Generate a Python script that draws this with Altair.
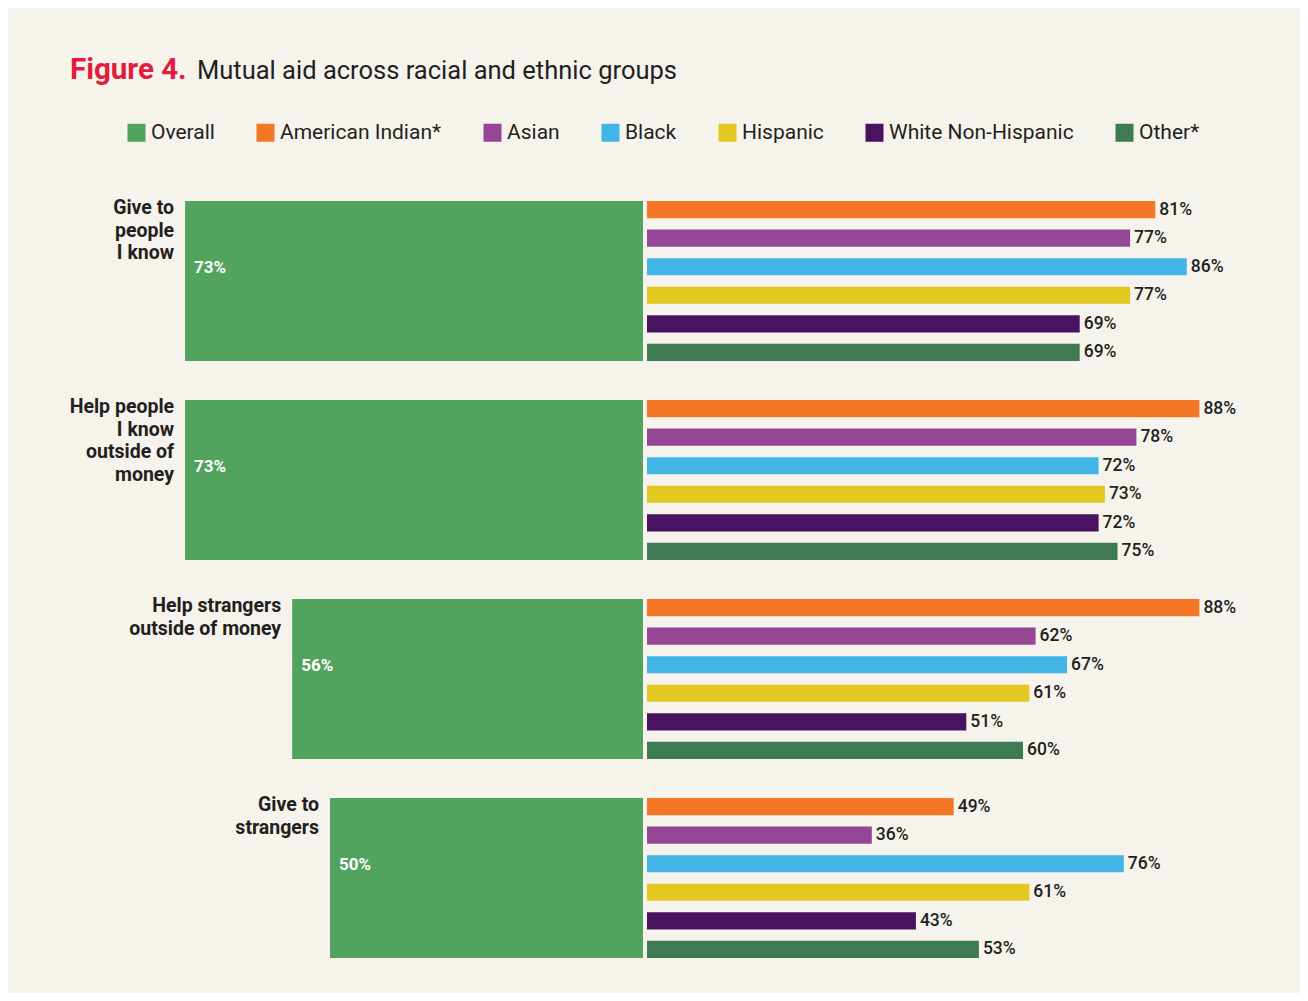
import altair as alt
import pandas as pd

# ---------------- data ----------------
groups = [
    "Give to people I know",
    "Help people I know outside of money",
    "Help strangers outside of money",
    "Give to strangers",
]
group_labels = [
    "Give to\npeople\nI know",
    "Help people\nI know\noutside of\nmoney",
    "Help strangers\noutside of money",
    "Give to\nstrangers",
]
overall = [73, 73, 56, 50]

series = ["American Indian*", "Asian", "Black", "Hispanic", "White Non-Hispanic", "Other*"]
american_indian = [81, 88, 88, 49]
asian = [77, 78, 62, 36]
black = [86, 72, 67, 76]
hispanic = [77, 73, 61, 61]
white_non_hispanic = [69, 72, 51, 43]
other = [69, 75, 60, 53]

legend_order = ["Overall"] + series
colors = ["#52a35e", "#f47725", "#954796", "#41b6e6", "#e2c820", "#4a1362", "#3e7b53"]

# ---------------- tables ----------------
over_df = pd.DataFrame({
    "group": groups,
    "glabel": group_labels,
    "series": ["Overall"] * len(groups),
    "value": overall,
    "neg": [-v for v in overall],
    "label": [f"{v}%" for v in overall],
})

rows = []
for s, vals in zip(series, [american_indian, asian, black, hispanic, white_non_hispanic, other]):
    for g, v in zip(groups, vals):
        rows.append({"group": g, "series": s, "value": v, "label": f"{v}%"})
sub_df = pd.DataFrame(rows)

# ---------------- layout ----------------
W, H = 1292, 985
FONT = "Roboto"
DARK = "#231f20"
BG = "#f6f3ec"
PX = 6.3          # pixels per percentage point
ZERO = 637        # x pixel of the zero line

x_scale = alt.Scale(domain=[-ZERO / PX, (W - ZERO) / PX], range=[0, W], nice=False, zero=False)
y_scale = alt.Scale(domain=groups, range=[193, 950], paddingInner=0.196, paddingOuter=0)
yoff_scale = alt.Scale(domain=series, paddingInner=0.4, paddingOuter=0)
color_scale = alt.Scale(domain=legend_order, range=colors)

legend = alt.Legend(
    orient="none", legendX=118, legendY=114, direction="horizontal", columns=7,
    title=None, symbolType="square", symbolSize=324, symbolStrokeWidth=0,
    symbolOpacity=1, labelFontSize=21, labelFont=FONT, labelColor=DARK,
    columnPadding=40, labelOffset=4, labelLimit=400,
)

base_over = alt.Chart(over_df)
base_sub = alt.Chart(sub_df)

over_bars = base_over.mark_bar(x2Offset=-2, opacity=1).encode(
    x=alt.X("neg:Q", scale=x_scale, axis=None),
    x2=alt.X2(datum=0),
    y=alt.Y("group:N", scale=y_scale, axis=None, sort=groups),
    color=alt.Color("series:N", scale=color_scale, legend=legend, sort=legend_order),
)

over_labels = base_over.mark_text(
    align="left", baseline="middle", dx=9, dy=-13, fontSize=17,
    fontWeight="bold", color="white", font=FONT,
).encode(
    x=alt.X("neg:Q", scale=x_scale, axis=None),
    y=alt.Y("group:N", scale=y_scale, axis=None, sort=groups),
    text="label:N",
)

cat_labels = base_over.mark_text(
    align="right", baseline="top", dx=-11, dy=-2, fontSize=19.5, lineHeight=22.5,
    fontWeight="bold", color=DARK, font=FONT, lineBreak="\n",
).encode(
    x=alt.X("neg:Q", scale=x_scale, axis=None),
    y=alt.Y("group:N", scale=y_scale, axis=None, sort=groups, bandPosition=0),
    text="glabel:N",
)

sub_bars = base_sub.mark_bar(x2Offset=2, opacity=1).encode(
    x=alt.X("value:Q", scale=x_scale, axis=None),
    x2=alt.X2(datum=0),
    y=alt.Y("group:N", scale=y_scale, axis=None, sort=groups),
    yOffset=alt.YOffset("series:N", scale=yoff_scale, sort=series),
    color=alt.Color("series:N", scale=color_scale, legend=legend, sort=legend_order),
)

sub_labels = base_sub.mark_text(
    align="left", baseline="middle", dx=4, fontSize=17.5, color=DARK, font=FONT,
    fontWeight=500,
).encode(
    x=alt.X("value:Q", scale=x_scale, axis=None),
    y=alt.Y("group:N", scale=y_scale, axis=None, sort=groups),
    yOffset=alt.YOffset("series:N", scale=yoff_scale, sort=series),
    text="label:N",
)

title_a = alt.Chart(pd.DataFrame({"t": ["Figure 4."]})).mark_text(
    align="left", baseline="alphabetic", fontSize=29.5, fontWeight="bold",
    color="#e31c3d", font=FONT,
).encode(x=alt.value(62), y=alt.value(71), text="t:N")

title_b = alt.Chart(pd.DataFrame({"t": ["Mutual aid across racial and ethnic groups"]})).mark_text(
    align="left", baseline="alphabetic", fontSize=25.5, color=DARK, font=FONT,
).encode(x=alt.value(189), y=alt.value(71), text="t:N")

chart = alt.layer(
    over_bars, sub_bars, over_labels, sub_labels, cat_labels, title_a, title_b
).properties(
    width=W, height=H, background=BG, padding=0,
    autosize=alt.AutoSizeParams(type="none"),
).configure_view(stroke=None)

chart.save("out.html", embed_options={"renderer": "svg", "actions": False})
